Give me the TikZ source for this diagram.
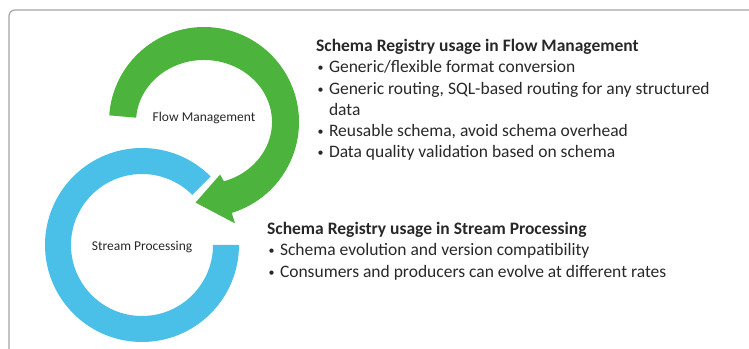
\documentclass[tikz,border=0pt]{standalone}
\usepackage{fontspec}
\setmainfont{Carlito}
\usetikzlibrary{calc}

\definecolor{ringblue}{RGB}{74,192,232}
\definecolor{arrowgreen}{RGB}{76,180,60}
\definecolor{framegray}{RGB}{165,165,165}
\definecolor{textgray}{RGB}{40,40,40}

\newcommand{\bul}{\makebox[12.8pt][l]{\hspace{1.5pt}\raisebox{1pt}{\fontsize{12}{12}\selectfont •}}}

\tikzset{
  ringlabel/.style={font=\fontsize{13.5}{16}\selectfont, text=textgray, inner sep=0pt},
  infotext/.style={font=\fontsize{17.5}{21.3}\selectfont, text=textgray, align=left, inner sep=0pt, anchor=north west}
}

\begin{document}
\begin{tikzpicture}[x=1pt,y=1pt]
    \useasboundingbox (0,0) rectangle (749,348);
    \clip (0,0) rectangle (749,348);

    % Frame
    \draw[framegray, line width=1.2pt, rounded corners=6pt] (9,-20) -- (9,338) -- (780,338);

    % Ring centres
    \coordinate (sc) at (142,103);
    \coordinate (fc) at (204,226);

    % Stream Processing ring
    \fill[ringblue] (sc) ++(45:97) arc[start angle=45, end angle=360, radius=97]
        -- ++(-26,0) arc[start angle=360, end angle=45, radius=71] -- cycle;

    % Flow Management arrow
    \fill[arrowgreen] (fc) ++(176:95) arc[start angle=176, end angle=-73, radius=95]
        -- ($(fc)+(-73:106)$) -- ($(fc)+(-96:81)$) -- ($(fc)+(-73:55)$) -- ($(fc)+(-73:68 and 62)$)
        arc[start angle=-73, end angle=176, x radius=68, y radius=62] -- cycle;

    % Labels
    \node[ringlabel] (flowlbl)   at (204,230) {Flow Management};
    \node[ringlabel] (streamlbl) at (142,101) {Stream Processing};

    % Usage texts
    \node[infotext] (flowinfo) at (316,309) {\textbf{Schema Registry usage in Flow Management}\\
        \bul Generic/flexible format conversion\\
        \bul Generic routing, SQL-based routing for any structured\\
        \hspace*{12.8pt}data\\
        \bul Reusable schema, avoid schema overhead\\
        \bul Data quality validation based on schema};
    \node[infotext] (streaminfo) at (267,126) {\textbf{Schema Registry usage in Stream Processing}\\
        \bul Schema evolution and version compatibility\\
        \bul Consumers and producers can evolve at different rates};
\end{tikzpicture}
\end{document}
